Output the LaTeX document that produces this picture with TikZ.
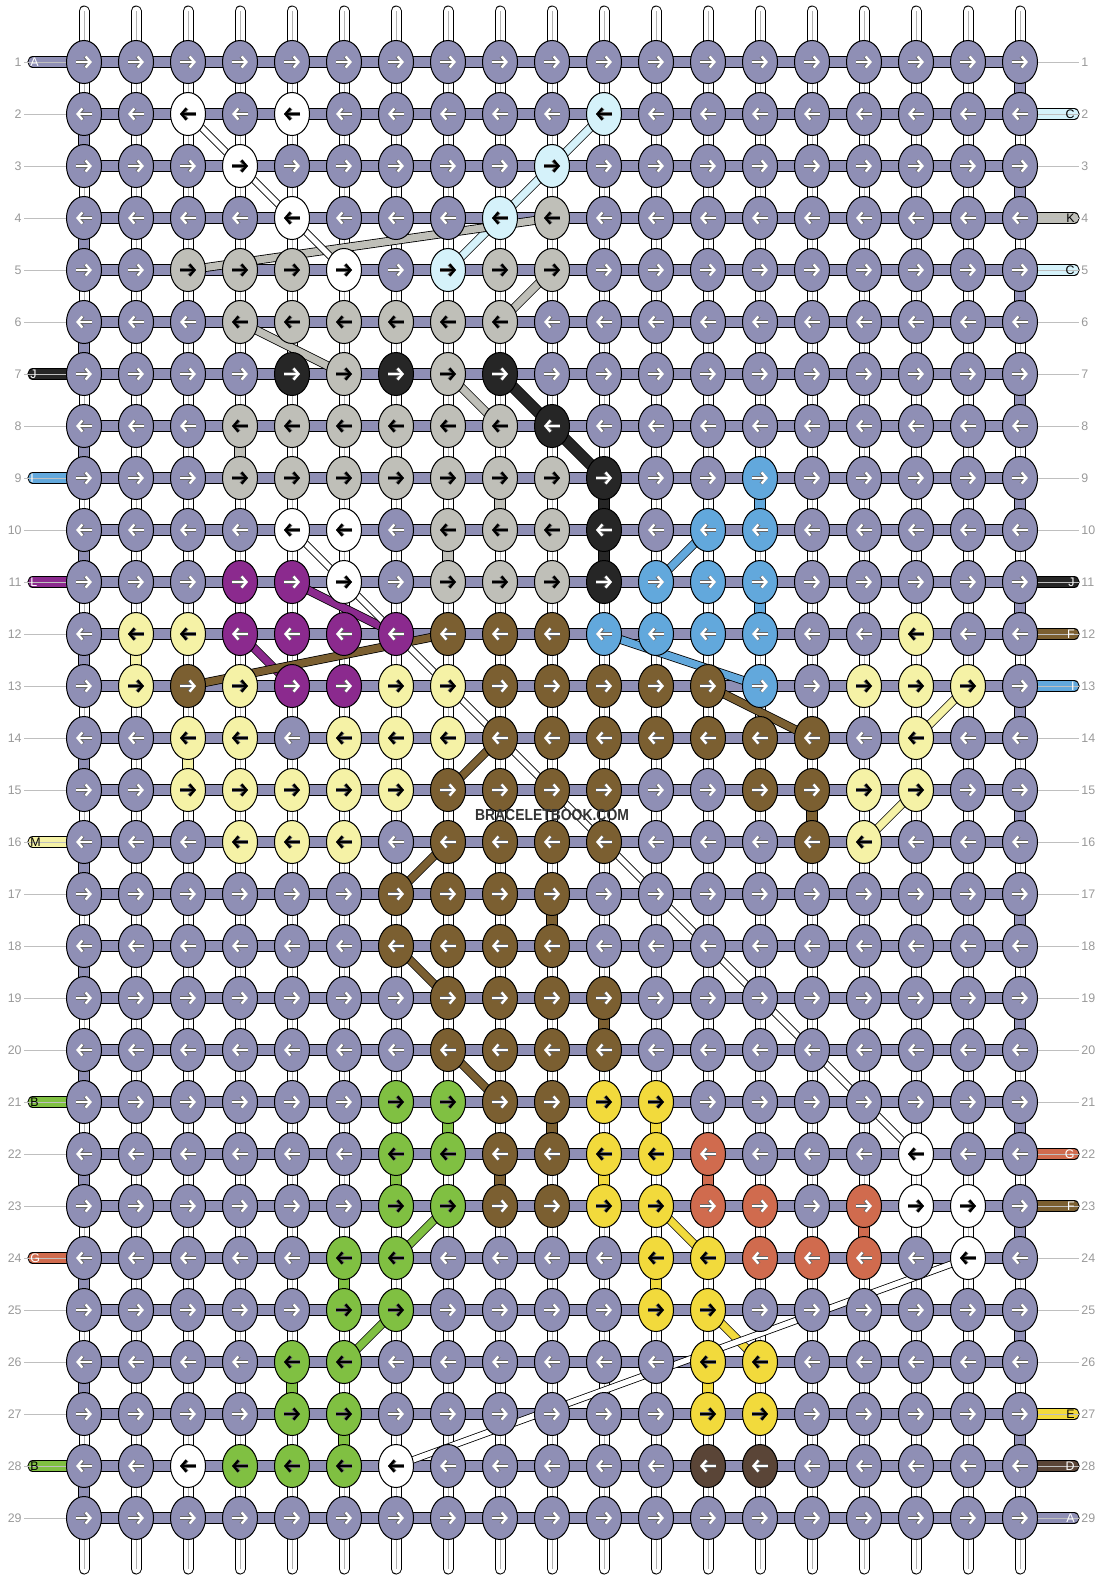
\documentclass[tikz,border=0pt]{standalone}
\usepackage{fontspec}
\setmainfont{Liberation Sans}
\usepackage{xstring}
\usetikzlibrary{arrows.meta,shapes.geometric}

% thread colours, one letter each
\definecolor{cola}{HTML}{8F8FB5}
\definecolor{colw}{HTML}{FFFFFF}
\definecolor{colc}{HTML}{D5F2FA}
\definecolor{colk}{HTML}{BFBFB8}
\definecolor{colj}{HTML}{262626}
\definecolor{coli}{HTML}{62A8DC}
\definecolor{coll}{HTML}{8B2A8E}
\definecolor{colf}{HTML}{7B5F31}
\definecolor{colm}{HTML}{F5F2A6}
\definecolor{colb}{HTML}{80C042}
\definecolor{cole}{HTML}{F2DA3C}
\definecolor{colg}{HTML}{D06B4E}
\definecolor{cold}{HTML}{5A4537}
% arrow colour on each knot colour
\colorlet{arra}{white}\colorlet{arrw}{black}\colorlet{arrc}{black}
\colorlet{arrk}{black}\colorlet{arrj}{white}\colorlet{arri}{white}
\colorlet{arrl}{white}\colorlet{arrf}{white}\colorlet{arrm}{black}
\colorlet{arrb}{black}\colorlet{arre}{black}\colorlet{arrg}{white}
\colorlet{arrd}{white}

\pgfdeclarelayer{bg}
\pgfsetlayers{bg,main}

\tikzset{
  knot/.style={ellipse, draw=black, line width=0.5pt, minimum width=17.5pt,
    minimum height=21.5pt, inner sep=0pt},
  thread/.style={draw=black, line width=0.5pt, double=#1, double distance=4.6pt},
  vstring/.style={draw=black, line width=0.5pt, double=white,
    double distance=4.5pt, line cap=round},
  strand/.style={draw=black, line width=0.4pt, double=#1, double distance=3.6pt},
  tip/.style={line width=1.2pt, -{Straight Barb[length=2.4pt,width=5.6pt]},
    preaction={draw=black!60, line width=1.7pt}},
  rownum/.style={text=black!40, font=\fontsize{6.2}{7}\selectfont, inner sep=1pt},
  tag/.style={font=\fontsize{6.2}{7}\selectfont, inner sep=0pt},
  guide/.style={draw=black!25, line width=0.5pt},
}

\begin{document}
\begin{tikzpicture}[x=0.5pt, y=-0.5pt]
\useasboundingbox (0,0) rectangle (1104,1580);

% knots, one pattern string per row
\foreach \r/\pat in {
  1/aaaaaaaaaaaaaaaaaaa,
  2/aawawaaaaacaaaaaaaa,
  3/aaawaaaaacaaaaaaaaa,
  4/aaaawaaackaaaaaaaaa,
  5/aakkkwackkaaaaaaaaa,
  6/aaakkkkkkaaaaaaaaaa,
  7/aaaajkjkjaaaaaaaaaa,
  8/aaakkkkkkjaaaaaaaaa,
  9/aaakkkkkkkjaaiaaaaa,
  10/aaaawwakkkjaiiaaaaa,
  11/aaallwakkkjiiiaaaaa,
  12/ammllllfffiiiiaamaa,
  13/amfmllmmfffffiammma,
  14/aammammmfffffffamaa,
  15/aammmmmffffaaffmmaa,
  16/aaammmaffffaaafmaaa,
  17/aaaaaaffffaaaaaaaaa,
  18/aaaaaaffffaaaaaaaaa,
  19/aaaaaaaffffaaaaaaaa,
  20/aaaaaaaffffaaaaaaaa,
  21/aaaaaabbffeeaaaaaaa,
  22/aaaaaabbffeegaaawaa,
  23/aaaaaabbffeeggagwwa,
  24/aaaaabbaaaaeegggawa,
  25/aaaaabbaaaaeeaaaaaa,
  26/aaaabbaaaaaaeeaaaaa,
  27/aaaabbaaaaaaeeaaaaa,
  28/aawbbbwaaaaaddaaaaa,
  29/aaaaaaaaaaaaaaaaaaa}{
  \foreach \c in {1,...,19}{
    \StrChar{\pat}{\c}[\ch]
    \node[knot, fill=col\ch] (k-\r-\c) at ({32+52*\c},{10+52*\r}) {};
    \ifodd\r
      \draw[tip, draw=arr\ch] ([xshift=-4pt]k-\r-\c.center) -- ([xshift=4pt]k-\r-\c.center);
    \else
      \draw[tip, draw=arr\ch] ([xshift=4pt]k-\r-\c.center) -- ([xshift=-4pt]k-\r-\c.center);
    \fi
  }
}

% row numbers and guide lines
\foreach \r in {1,...,29}{
  \node[rownum, anchor=east] (nl-\r) at (24,{10+52*\r}) {\r};
  \node[rownum, anchor=west] (nr-\r) at (1079,{10+52*\r}) {\r};
  \draw[guide] (nl-\r.east) -- (k-\r-1.west);
  \draw[guide] (k-\r-19.east) -- (nr-\r.west);
}

% string ends at top and bottom
\foreach \c in {1,...,19}{
  \coordinate (top-\c) at ({32+52*\c},11);
  \coordinate (bot-\c) at ({32+52*\c},1569);
}

\begin{pgfonlayer}{bg}
  % vertical strings
  \foreach \c in {1,...,19}{
    \draw[vstring] (top-\c) -- (bot-\c);
    \draw[black!30, line width=0.3pt] (top-\c) -- (bot-\c);
  }
  % background thread, rows and turns at the edges
  \foreach \r in {1,...,29}
    \draw[thread=cola] (k-\r-1.center) -- (k-\r-19.center);
  \foreach \r [evaluate=\r as \n using int(\r+1)] in {2,4,...,28}
    \draw[thread=cola] (k-\r-1.center) -- (k-\n-1.center);
  \foreach \r [evaluate=\r as \n using int(\r+1)] in {1,3,...,27}
    \draw[thread=cola] (k-\r-19.center) -- (k-\n-19.center);
  % coloured threads running down a column
  \foreach \c/\r/\cl [evaluate=\r as \n using int(\r+1)] in {
    4/8/k, 9/9/k, 8/10/k, 11/9/j, 11/10/j, 14/9/i, 14/11/i,
    2/12/m, 3/14/m, 10/17/f, 11/19/f, 15/15/f, 10/21/f, 9/22/f,
    8/21/b, 7/22/b, 6/24/b, 5/26/b, 6/27/b,
    12/21/e, 11/22/e, 12/24/e, 13/26/e, 13/22/g, 16/23/g}
    \draw[thread=col\cl, line cap=butt] (k-\r-\c.center) -- (k-\n-\c.center);
  % coloured threads crossing over
  \foreach \ra/\ca/\rb/\cb/\cl in {
    2/11/5/8/c, 4/10/5/3/k, 5/10/6/9/k, 6/4/7/6/k, 7/8/8/9/k,
    10/13/11/12/i, 12/11/13/14/i, 11/5/12/7/l, 12/4/13/5/l,
    12/8/13/3/f, 13/13/14/15/f, 14/9/15/8/f, 16/8/17/7/f, 18/7/19/8/f, 20/8/21/9/f,
    13/18/14/17/m, 15/17/16/16/m, 23/8/24/7/b, 25/7/26/6/b,
    23/12/24/13/e, 25/13/26/14/e}
    \draw[strand=col\cl] (k-\ra-\ca.center) -- (k-\rb-\cb.center);
  \draw[strand=colj, double distance=5pt] (k-7-9.center) -- (k-9-11.center);
  \foreach \ra/\ca/\rb/\cb in {2/3/5/6, 10/5/22/17, 24/18/28/7}
    \draw[strand=white, double distance=2.8pt] (k-\ra-\ca.center) -- (k-\rb-\cb.center);
  % loose ends at the left
  \foreach \r/\cl in {1/a, 7/j, 9/i, 11/l, 16/m, 21/b, 24/g, 28/b}{
    \coordinate (le-\r) at (33,{10+52*\r});
    \draw[thread=col\cl, line cap=round] (le-\r) -- (k-\r-1.center);
  }
  % loose ends at the right
  \foreach \r/\cl in {2/c, 4/k, 5/c, 11/j, 12/f, 13/i, 22/g, 23/f, 27/e, 28/d, 29/a}{
    \coordinate (re-\r) at (1074,{10+52*\r});
    \draw[thread=col\cl, line cap=round] (k-\r-19.center) -- (re-\r);
  }
\end{pgfonlayer}

% thread letters
\foreach \r/\t/\tc in {1/A/white, 7/J/white, 9/I/white, 11/L/white,
    16/M/black, 21/B/black, 24/G/white, 28/B/black}
  \node[tag, anchor=west, text=\tc] (tl-\r) at (30,{10+52*\r}) {\t};
\foreach \r/\t/\tc in {2/C/black, 4/K/black, 5/C/black, 11/J/white, 12/F/white,
    13/I/white, 22/G/white, 23/F/white, 27/E/black, 28/D/white, 29/A/white}
  \node[tag, anchor=east, text=\tc] (tr-\r) at (1075,{10+52*\r}) {\t};

\node[font=\fontsize{8}{8}\selectfont\bfseries, text=black!80, xscale=0.87]
  (mark) at (552,815) {BRACELETBOOK.COM};
\end{tikzpicture}
\end{document}
